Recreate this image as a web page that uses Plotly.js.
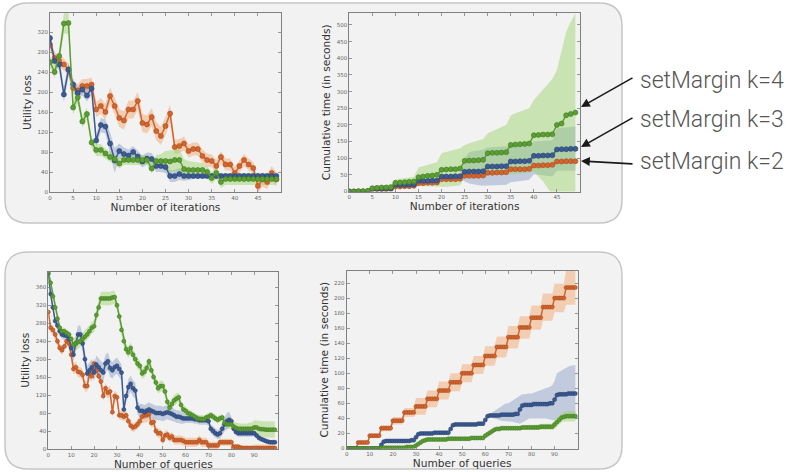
<!DOCTYPE html>
<html>
<head>
<meta charset="utf-8">
<script src="https://cdn.plot.ly/plotly-3.0.1.min.js"></script>
<style>html,body{margin:0;padding:0;background:#fff;}#chart{width:805px;height:472px;}</style>
</head>
<body>
<div id="chart"></div>
<script>
// ---------- data ----------
const iterations = Array.from({length: 50}, (_, i) => i);
const queries = Array.from({length: 100}, (_, i) => i);

const iterTicks = [0, 5, 10, 15, 20, 25, 30, 35, 40, 45];
const queryTicks = [0, 10, 20, 30, 40, 50, 60, 70, 80, 90];
const lossIterTicks = [0, 40, 80, 120, 160, 200, 240, 280, 320];
const timeIterTicks = [0, 50, 100, 150, 200, 250, 300, 350, 400, 450, 500];
const lossQueryTicks = [0, 40, 80, 120, 160, 200, 240, 280, 320, 360];
const timeQueryTicks = [0, 20, 40, 60, 80, 100, 120, 140, 160, 180, 200, 220];

const seriesNames = ["setMargin k=2", "setMargin k=3", "setMargin k=4"];

// Panel 1: utility loss vs iterations
const lossIterK2 = [295,268,262,255,245,208,203,212,212,215, 165,172,160,192,172,148,143,165,165,182, 138,135,150,122,112,132,157,90,92,97, 82,86,86,72,64,62,52,70,55,55, 38,52,64,55,48,12,25,20,38,25];
const lossIterK2Sd = [10,12,12,12,12,12,13,14,14,14, 15,16,16,17,17,18,18,18,18,18, 18,18,18,18,18,18,18,14,14,14, 13,13,13,13,13,13,12,12,12,12, 12,12,12,12,12,14,14,14,14,14];
const lossIterK3 = [308,262,255,195,245,215,198,205,193,207, 103,134,131,97,63,82,76,73,80,71, 61,67,66,52,52,50,32,32,36,32, 32,32,32,32,32,32,32,32,32,32, 32,32,32,32,32,32,32,32,32,32];
const lossIterK3Sd = [8,10,12,15,14,12,12,12,12,12, 12,14,14,22,25,15,13,12,12,12, 12,12,12,12,12,12,12,12,12,10, 8,6,6,6,6,5,5,5,5,5, 5,5,5,5,5,5,5,5,5,5];
const lossIterK4 = [260,240,272,337,338,169,189,141,156,99, 84,84,77,70,66,57,64,64,64,64, 64,64,47,62,62,62,61,64,64,46, 44,44,44,44,40,28,38,20,26,26, 26,26,26,26,26,26,26,26,26,26];
const lossIterK4Sd = [12,12,14,20,22,14,12,12,12,12, 12,12,10,10,10,10,10,10,10,10, 10,10,10,12,14,20,22,22,22,20, 18,16,15,14,12,12,12,12,12,12, 12,12,12,12,12,12,12,12,12,12];

// Panel 2: cumulative time vs iterations
const timeIterK2 = [0,0,0,0,0, 7,7,7,7,8, 15,15,16,16,17, 25,25,26,26,27, 37,37,37,37,38, 47,47,47,47,48, 56,56,57,57,58, 67,67,67,67,68, 78,78,79,79,80, 90,90,91,91,91];
const timeIterK2Sd = [0,0,0,0,0, 1,1,1,1,1, 2,2,2,2,2, 3,3,3,3,3, 3,3,3,3,3, 4,4,4,4,4, 4,4,4,4,4, 5,5,5,5,5, 5,5,5,5,5, 6,6,6,6,6];
const timeIterK3 = [0,0,0,0,0, 8,8,8,9,9, 20,20,20,21,21, 32,32,32,33,33, 45,45,45,46,46, 59,60,60,60,61, 75,75,75,76,76, 90,90,91,91,92, 107,107,108,108,109, 126,127,127,128,128];
const timeIterK3Hi = [1,1,1,1,1, 10,10,10,11,11, 23,23,23,24,24, 36,36,36,37,37, 50,50,50,51,51, 100,118,121,123,125, 132,133,133,134,134, 136,137,138,139,140, 150,151,152,153,154, 190,192,193,194,195];
const timeIterK3Lo = [0,0,0,0,0, 6,6,6,7,7, 17,17,17,18,18, 28,28,28,29,29, 40,40,40,41,41, 30,24,21,19,17, 16,17,18,19,20, 28,30,32,33,35, 52,50,48,46,45, 62,62,62,62,62];
const timeIterK4 = [0,0,1,1,2, 10,11,12,12,13, 26,27,28,29,30, 43,45,47,48,50, 65,66,67,67,69, 92,93,93,94,95, 115,116,116,117,118, 140,141,142,143,144, 169,170,171,171,172, 200,204,229,233,237];
const timeIterK4Hi = [0,1,2,3,4, 14,16,18,20,22, 36,38,40,42,44, 72,76,80,84,88, 115,118,122,126,130, 140,145,150,154,158, 175,182,188,194,200, 228,235,240,245,250, 275,290,305,320,338, 365,425,480,510,535];
const timeIterK4Lo = [0,0,0,0,0, 6,6,6,6,6, 16,16,17,17,18, 16,16,16,15,15, 14,14,15,16,18, 45,46,47,48,48, 50,50,50,50,50, 52,52,53,54,56, 60,45,30,12,-10, -30,-60,-80,-90,-100];

// Panel 3: utility loss vs queries
const lossQueryK2 = [305,270,265,255,240,225,220,228,240,235, 210,178,182,172,170,165,140,140,168,162, 190,175,162,150,118,135,125,128,82,118, 115,75,75,72,75,62,52,48,50,55, 62,72,75,75,78,58,60,40,35,35, 20,30,32,25,28,20,20,20,20,18, 15,15,15,15,15,15,20,15,15,15, 8,8,8,8,8,15,15,15,15,15, 15,5,5,5,3,2,2,2,2,2, 2,2,2,2,2,2,2,2,2,2];
const lossQueryK2Sd = [10,10,10,10,10,10,10,10,10,10, 12,12,12,12,12,12,12,12,12,12, 12,12,12,12,12,12,12,12,12,12, 10,10,10,10,10,10,10,10,10,10, 12,14,16,16,14,10,10,10,10,10, 10,10,10,10,10,10,10,10,10,10, 10,10,10,10,10,10,10,10,10,10, 8,8,8,8,8,8,8,8,8,8, 8,6,6,6,6,6,6,6,6,6, 8,8,8,8,8,8,8,8,8,8];
const lossQueryK3 = [390,345,315,285,275,262,255,253,252,245, 225,210,235,255,255,235,200,168,175,182, 170,188,182,175,170,190,195,180,175,182, 185,178,170,88,118,138,145,135,130,92, 85,85,82,85,88,85,83,80,80,80, 78,80,82,80,78,75,72,72,70,68, 68,68,68,68,66,66,64,64,64,64, 62,45,40,35,32,35,45,55,62,65, 62,45,38,35,35,35,35,35,35,35, 35,30,25,22,20,18,16,15,15,15];
const lossQueryK3Sd = [10,10,10,10,10,10,10,10,10,10, 12,14,18,20,20,18,18,18,18,18, 18,20,20,20,20,20,20,20,18,18, 18,18,18,15,15,18,18,18,18,15, 15,15,16,16,16,16,16,16,16,16, 16,16,16,16,16,14,14,14,14,12, 10,10,10,10,10,10,10,10,10,10, 10,10,10,10,10,12,14,16,18,18, 10,8,8,8,8,8,8,8,8,8, 6,6,6,6,5,5,5,5,5,5];
const lossQueryK4 = [395,370,340,315,290,270,262,262,258,255, 245,232,235,238,240,245,250,255,262,270, 273,298,315,335,335,335,335,335,337,338, 320,295,265,240,222,215,225,210,200,190, 185,168,172,180,195,175,160,148,135,140, 140,128,105,92,100,108,112,115,98,88, 85,80,78,75,72,68,67,66,66,70, 72,75,72,68,65,68,70,58,55,55, 55,50,47,45,45,45,45,45,45,45, 48,48,45,44,44,43,43,43,43,43];
const lossQueryK4Sd = [10,10,10,9,9,8,8,8,8,8, 12,14,15,15,14,14,13,13,13,13, 14,15,15,15,15,15,15,15,15,14, 12,12,12,12,12,12,12,12,12,12, 12,12,12,12,12,12,12,12,12,12, 12,12,12,12,12,12,12,10,10,10, 9,9,9,8,8,8,8,8,8,8, 8,8,8,8,8,8,8,10,10,10, 10,10,12,12,12,12,12,12,14,14, 16,16,18,18,18,18,18,18,18,18];

// Panel 4: cumulative time vs queries
const timeQueryK2 = [0,0,0,0,0,8,8,8,8,8, 17,17,17,17,17,27,27,27,27,27, 37,37,37,37,37,48,48,48,48,48, 56,56,56,56,56,66,66,66,66,66, 77,77,77,77,77,88,88,88,88,88, 100,100,100,100,100,111,111,111,111,111, 123,123,123,123,123,135,135,135,135,135, 148,148,148,148,148,161,161,161,161,161, 174,174,174,174,174,188,188,188,188,188, 200,200,200,200,200,214,214,214,214,214];
const timeQueryK2Sd = [0,0,0,0,0,2,2,2,2,2, 3,3,3,3,3,4,4,4,4,4, 5,5,5,5,5,6,6,6,6,6, 11,11,11,11,11,11,11,11,11,11, 12,12,12,12,12,12,12,12,12,12, 12,12,12,12,12,12,12,12,12,12, 13,13,13,13,13,14,14,14,14,14, 15,15,15,15,15,15,15,15,15,15, 16,16,16,16,16,18,18,18,18,18, 19,19,19,19,19,23,23,23,23,23];
const timeQueryK3 = [0,0,0,0,0,0,0,0,0,0, 0,0,0,0,0,5,9,10,10,10, 10,10,10,10,10,10,10,10,11,11, 15,19,20,20,20,20,20,20,21,21, 21,21,21,21,21,26,31,32,32,32, 32,32,32,32,32,32,32,33,33,33, 38,43,44,44,44,44,44,45,45,45, 45,45,45,46,46,52,57,58,58,58, 58,59,59,59,59,59,59,59,60,60, 65,71,72,72,72,72,73,73,73,73];
const timeQueryK3Hi = [1,1,1,1,1,1,1,1,1,1, 1,1,1,1,1,6,10,11,11,11, 11,11,11,11,11,11,11,11,12,12, 16,20,21,21,21,21,21,21,22,22, 22,22,22,22,22,27,32,33,33,33, 33,33,33,33,33,33,34,34,34,34, 39,44,46,48,50,52,54,56,58,60, 60,62,64,66,68,71,72,72,73,73, 73,74,75,76,77,78,79,80,82,84, 90,100,102,104,106,108,109,110,111,111];
const timeQueryK3Lo = [0,0,0,0,0,0,0,0,0,0, 0,0,0,0,0,4,8,9,9,9, 9,9,9,9,9,9,9,9,10,10, 14,18,19,19,19,19,19,19,20,20, 20,20,20,20,20,25,30,31,31,31, 31,31,31,31,31,31,31,32,32,32, 37,41,42,41,40,39,38,37,37,36, 36,36,35,35,34,33,34,36,38,40, 40,40,40,40,40,40,40,39,39,38, 38,40,42,43,44,44,45,45,45,45];
const timeQueryK4 = [0,0,0,0,0,0,0,0,0,0, 0,0,0,0,0,1,1,1,1,1, 1,1,1,1,1,1,2,2,2,2, 4,6,8,10,11,12,12,12,12,12, 12,12,12,12,13,13,13,13,13,13, 13,13,13,13,14,14,14,14,14,14, 17,19,21,23,25,26,26,27,27,27, 27,27,27,27,27,27,28,28,28,28, 28,28,28,28,29,29,29,29,29,29, 32,35,38,41,42,43,43,43,43,43];
const timeQueryK4Sd = [0,0,0,0,0,0,0,0,0,0, 1,1,1,1,1,1,1,1,1,1, 1,1,1,1,1,1,1,1,1,1, 1,1,1,1,1,1,1,1,1,1, 1,1,1,1,1,1,1,1,1,1, 1,1,1,1,1,1,1,1,1,1, 1,1,1,1,1,1,1,1,1,1, 2,2,2,2,2,3,3,3,3,3, 4,4,4,4,4,4,4,4,4,4, 6,6,6,6,6,7,7,7,7,7];

// ---------- style ----------
const W = 805, H = 472;
const lineColors = ["#d2652d", "#3b5b92", "#5b9e33"];
const edgeColors = ["#a94b1e", "#2a4270", "#437a24"];
const bandColors = ["rgba(242,160,100,0.45)", "rgba(120,145,190,0.40)", "rgba(150,210,100,0.45)"];

const fx = p => p / W;
const fy = p => 1 - p / H;

function plus(m, s) { return m.map((v, i) => v + s[i]); }
function minus(m, s) { return m.map((v, i) => v - s[i]); }

const traces = [];
function addPanel(xs, means, his, los, ax, ms) {
  for (let k = 0; k < 3; k++) {
    traces.push({
      x: xs.concat(xs.slice().reverse()),
      y: his[k].concat(los[k].slice().reverse()),
      fill: "toself", fillcolor: bandColors[k], mode: "lines", line: {width: 0},
      hoverinfo: "skip", showlegend: false, xaxis: "x" + ax, yaxis: "y" + ax
    });
  }
  for (let k = 0; k < 3; k++) {
    traces.push({
      x: xs, y: means[k], name: seriesNames[k], mode: "lines+markers",
      line: {color: lineColors[k], width: 1.5},
      marker: {size: ms, color: lineColors[k], line: {color: edgeColors[k], width: 0.6}},
      showlegend: false, xaxis: "x" + ax, yaxis: "y" + ax
    });
  }
}

addPanel(iterations, [lossIterK2, lossIterK3, lossIterK4],
  [plus(lossIterK2, lossIterK2Sd), plus(lossIterK3, lossIterK3Sd), plus(lossIterK4, lossIterK4Sd)],
  [minus(lossIterK2, lossIterK2Sd), minus(lossIterK3, lossIterK3Sd), minus(lossIterK4, lossIterK4Sd)], "", 5);
addPanel(iterations, [timeIterK2, timeIterK3, timeIterK4],
  [plus(timeIterK2, timeIterK2Sd), timeIterK3Hi, timeIterK4Hi],
  [minus(timeIterK2, timeIterK2Sd), timeIterK3Lo, timeIterK4Lo], "2", 5);
addPanel(queries, [lossQueryK2, lossQueryK3, lossQueryK4],
  [plus(lossQueryK2, lossQueryK2Sd), plus(lossQueryK3, lossQueryK3Sd), plus(lossQueryK4, lossQueryK4Sd)],
  [minus(lossQueryK2, lossQueryK2Sd), minus(lossQueryK3, lossQueryK3Sd), minus(lossQueryK4, lossQueryK4Sd)], "3", 4);
addPanel(queries, [timeQueryK2, timeQueryK3, timeQueryK4],
  [plus(timeQueryK2, timeQueryK2Sd), timeQueryK3Hi, plus(timeQueryK4, timeQueryK4Sd)],
  [minus(timeQueryK2, timeQueryK2Sd), timeQueryK3Lo, minus(timeQueryK4, timeQueryK4Sd)], "4", 4);

const tickFont = {family: "DejaVu Sans", size: 5.5, color: "#666"};
const titleFont = {family: "DejaVu Sans", size: 10.6, color: "#333"};
function axis(domain, range, ticks, anchor, title, standoff) {
  return {
    domain: domain, range: range, anchor: anchor,
    tickmode: "array", tickvals: ticks, ticktext: ticks.map(String),
    showline: true, linecolor: "#808080", linewidth: 1, mirror: "ticks",
    ticks: "inside", ticklen: 3, tickcolor: "#808080", tickwidth: 0.8,
    tickfont: tickFont, showgrid: false, zeroline: false, fixedrange: true,
    title: {text: title, font: titleFont, standoff: standoff}
  };
}

function roundRect(x0, y0, x1, y1, r) {
  const P = (x, y) => fx(x) + "," + fy(y);
  return "M" + P(x0 + r, y0) + " L" + P(x1 - r, y0) + " Q" + P(x1, y0) + " " + P(x1, y0 + r) +
    " L" + P(x1, y1 - r) + " Q" + P(x1, y1) + " " + P(x1 - r, y1) +
    " L" + P(x0 + r, y1) + " Q" + P(x0, y1) + " " + P(x0, y1 - r) +
    " L" + P(x0, y0 + r) + " Q" + P(x0, y0) + " " + P(x0 + r, y0) + " Z";
}
const boxStyle = {type: "path", xref: "paper", yref: "paper", layer: "below",
  fillcolor: "#f2f2f2", line: {color: "#c6c6c6", width: 1.5}};

const labelFont = {family: "Roboto", size: 23, color: "#555555", weight: 300};
function label(text, yPx) {
  return {text: text, xref: "paper", yref: "paper", x: fx(638), y: fy(yPx),
    xanchor: "left", yanchor: "middle", showarrow: false, font: labelFont};
}
function arrow(hx, hy, tx, ty) {
  return {text: "", xref: "paper", yref: "paper", x: fx(hx), y: fy(hy),
    ax: tx - hx, ay: ty - hy, axref: "pixel", ayref: "pixel", showarrow: true,
    arrowhead: 2, arrowsize: 1.1, arrowwidth: 1.6, arrowcolor: "#1a1a1a"};
}

const layout = {
  width: W, height: H, margin: {l: 0, r: 0, t: 0, b: 0},
  paper_bgcolor: "#ffffff", plot_bgcolor: "rgba(0,0,0,0)", showlegend: false,
  font: {family: "DejaVu Sans"},
  xaxis: axis([fx(50), fx(281)], [0, 50], iterTicks, "y", "Number of iterations", 2),
  yaxis: axis([fy(192), fy(13)], [0, 358], lossIterTicks, "x", "Utility loss", 3),
  xaxis2: axis([fx(349.3), fx(580)], [0, 50], iterTicks, "y2", "Number of iterations", 2),
  yaxis2: axis([fy(191.5), fy(13)], [0, 536], timeIterTicks, "x2", "Cumulative time (in seconds)", 3),
  xaxis3: axis([fx(48.3), fx(278.3)], [0, 100.5], queryTicks, "y3", "Number of queries", 2),
  yaxis3: axis([fy(449), fy(271.5)], [0, 395], lossQueryTicks, "x3", "Utility loss", 3),
  xaxis4: axis([fx(346.7), fx(577.7)], [0, 100], queryTicks, "y4", "Number of queries", 2),
  yaxis4: axis([fy(448.5), fy(271)], [0, 236], timeQueryTicks, "x4", "Cumulative time (in seconds)", 3),
  shapes: [
    Object.assign({path: roundRect(5, 3, 622, 223, 23)}, boxStyle),
    Object.assign({path: roundRect(5, 252, 622, 469, 23)}, boxStyle)
  ],
  annotations: [
    label(seriesNames[2], 80), label(seriesNames[1], 119), label(seriesNames[0], 161),
    arrow(581, 107, 634, 77), arrow(581, 147, 634, 117), arrow(581, 161, 634, 164)
  ]
};

Plotly.newPlot("chart", traces, layout, {staticPlot: true, displayModeBar: false});
</script>
</body>
</html>
